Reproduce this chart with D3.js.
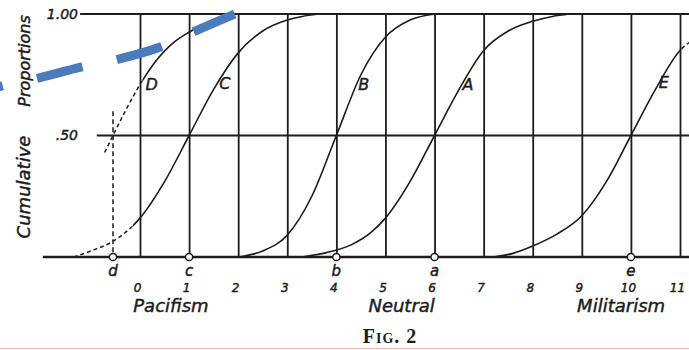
<!DOCTYPE html>
<html>
<head>
<meta charset="utf-8">
<script src="https://cdn.jsdelivr.net/npm/d3@7"></script>
<style>
  body { margin: 0; background: #fff; }
  svg { display: block; }
  .lettering { font-family: "DejaVu Sans", sans-serif; font-style: italic; fill: #1c1c1c; stroke: #1c1c1c; stroke-width: 0.45; }
</style>
</head>
<body>
<div id="chart"></div>
<script>
// ---- data (x in scale units, p = cumulative proportion) ----
var curveNames = ['D', 'C', 'B', 'A', 'E'];
var curveD = [[-0.72, 0.43], [-0.55, 0.5], [-0.3, 0.6], [0, 0.71], [0.3, 0.8], [0.7, 0.885], [1, 0.925], [1.45, 0.972], [1.95, 1.0]];
var curveC = [[-1.35, 0.0], [-1, 0.025], [-0.55, 0.065], [0, 0.16], [0.5, 0.31], [1, 0.5], [1.5, 0.69], [2, 0.84], [2.5, 0.93], [3, 0.975], [3.3, 0.99], [3.63, 1.0]];
var curveB = [[2, 0.0], [2.5, 0.025], [3, 0.09], [3.5, 0.25], [4, 0.5], [4.5, 0.75], [5, 0.905], [5.5, 0.975], [6, 1.0]];
var curveA = [[3.3, 0.0], [3.8, 0.018], [4.3, 0.05], [4.7, 0.1], [5, 0.16], [5.5, 0.31], [6, 0.5], [6.5, 0.69], [7, 0.85], [7.5, 0.93], [8, 0.97], [8.4, 0.99], [8.75, 1.0]];
var curveE = [[7.2, 0.0], [7.6, 0.015], [8, 0.045], [8.5, 0.095], [9, 0.17], [9.5, 0.31], [10, 0.5], [10.5, 0.69], [11, 0.85], [11.2, 0.885]];
var curveLabelPos = [[0.24, 0.71], [1.73, 0.715], [4.56, 0.71], [6.68, 0.71], [10.67, 0.72]];

var scaleTicks = [0, 1, 2, 3, 4, 5, 6, 7, 8, 9, 10, 11];
var medianLetters = ['d', 'c', 'b', 'a', 'e'];
var medianValues = [-0.55, 1, 4, 6, 10];
var regionNames = ['Pacifism', 'Neutral', 'Militarism'];
var regionCentres = [0.63, 5.33, 9.8];
var propTicks = [0.5, 1.0];
var propLabels = ['.50', '1.00'];
var hLineStarts = [-1.98, -0.88, -1.22]; // where the 0, .50, 1.00 rules begin
var hLineLevels = [0, 0.5, 1.0];

// someone's hand-drawn blue dashed stroke on top of the scan
var blueStroke = [[-3.05, 0.69], [-2.81, 0.704], [-2.14, 0.733], [-1.18, 0.782], [-0.51, 0.811], [0.41, 0.864], [1.08, 0.926], [1.93, 1.0]];

var width = 689, height = 350;
var ink = '#1c1c1c';

var svg = d3.select('#chart').append('svg')
    .attr('width', width)
    .attr('height', height);

var x = d3.scaleLinear().domain([0, 11]).range([140, 680]);
var y = d3.scaleLinear().domain([0, 1]).range([257, 14]);

// vertical rules
var grid = svg.append('g')
    .attr('transform', 'translate(0,' + y(0) + ')')
    .call(d3.axisBottom(x).tickValues(scaleTicks).tickSize(-(y(0) - y(1))).tickFormat(''));
grid.select('.domain').remove();
grid.selectAll('line').attr('stroke', ink).attr('stroke-width', 1.8);

// horizontal rules
svg.selectAll('.hrule')
    .data(hLineLevels)
    .enter().append('line')
    .attr('class', 'hrule')
    .attr('x1', (d, i) => x(hLineStarts[i]))
    .attr('x2', width)
    .attr('y1', d => y(d))
    .attr('y2', d => y(d))
    .attr('stroke', ink)
    .attr('stroke-width', (d) => d === 0 ? 2.6 : 1.8);

// dashed drop line at d
svg.append('line')
    .attr('x1', x(medianValues[0])).attr('x2', x(medianValues[0]))
    .attr('y1', y(0.6)).attr('y2', y(0))
    .attr('stroke', ink).attr('stroke-width', 1.5)
    .attr('stroke-dasharray', '5,3');

// clip regions for the dashed / solid parts of the ogives
var defs = svg.append('defs');
function clipRect(id, x0, x1) {
    defs.append('clipPath').attr('id', id).append('rect')
        .attr('x', x0).attr('y', 0).attr('width', x1 - x0).attr('height', height);
}
clipRect('dashD', 0, x(0.05)); clipRect('solidD', x(0.05), width);
clipRect('dashC', 0, x(-0.15)); clipRect('solidC', x(-0.15), width);
clipRect('dashE', x(11.03), width); clipRect('solidE', 0, x(11.03));

var line = d3.line()
    .x(d => x(d[0]))
    .y(d => y(d[1]))
    .curve(d3.curveMonotoneX);

var curves = [curveD, curveC, curveB, curveA, curveE];
var clips = { D: ['dashD', 'solidD'], C: ['dashC', 'solidC'], E: ['dashE', 'solidE'] };

curves.forEach((pts, i) => {
    var name = curveNames[i];
    if (clips[name]) {
        svg.append('path').datum(pts)
            .attr('d', line).attr('fill', 'none')
            .attr('stroke', ink).attr('stroke-width', 1.5)
            .attr('stroke-dasharray', '4,3')
            .attr('clip-path', 'url(#' + clips[name][0] + ')');
        svg.append('path').datum(pts)
            .attr('d', line).attr('fill', 'none')
            .attr('stroke', ink).attr('stroke-width', 1.6)
            .attr('clip-path', 'url(#' + clips[name][1] + ')');
    } else {
        svg.append('path').datum(pts)
            .attr('d', line).attr('fill', 'none')
            .attr('stroke', ink).attr('stroke-width', 1.6);
    }
});

// curve letters
svg.selectAll('.clabel')
    .data(curveNames)
    .enter().append('text')
    .attr('class', 'lettering')
    .attr('x', (d, i) => x(curveLabelPos[i][0]))
    .attr('y', (d, i) => y(curveLabelPos[i][1]))
    .attr('dy', '0.35em')
    .attr('text-anchor', 'middle')
    .attr('font-size', 16)
    .text(d => d);

// median markers on the base line
svg.selectAll('.median')
    .data(medianValues)
    .enter().append('circle')
    .attr('cx', d => x(d))
    .attr('cy', y(0))
    .attr('r', 3.6)
    .attr('fill', '#fff')
    .attr('stroke', ink)
    .attr('stroke-width', 1.5);

svg.selectAll('.mletter')
    .data(medianLetters)
    .enter().append('text')
    .attr('class', 'lettering')
    .attr('x', (d, i) => x(medianValues[i]))
    .attr('y', 276)
    .attr('text-anchor', 'middle')
    .attr('font-size', 15)
    .text(d => d);

// scale numbers
var nums = svg.append('g')
    .attr('transform', 'translate(-3,' + y(0) + ')')
    .call(d3.axisBottom(x).tickValues(scaleTicks).tickSize(0).tickPadding(26));
nums.select('.domain').remove();
nums.selectAll('text')
    .attr('class', 'lettering')
    .attr('font-family', null)
    .attr('fill', null)
    .attr('font-size', 12);

// region names
svg.selectAll('.region')
    .data(regionNames)
    .enter().append('text')
    .attr('class', 'lettering')
    .attr('x', (d, i) => x(regionCentres[i]))
    .attr('y', 312)
    .attr('text-anchor', 'middle')
    .attr('font-size', 18)
    .text(d => d);

// proportion labels
var props = svg.append('g')
    .attr('transform', 'translate(78,0)')
    .call(d3.axisLeft(y).tickValues(propTicks).tickSize(0).tickPadding(0)
        .tickFormat((d, i) => propLabels[i]));
props.select('.domain').remove();
props.selectAll('text')
    .attr('class', 'lettering')
    .attr('font-family', null)
    .attr('fill', null)
    .attr('font-size', 14);

// y title
svg.append('text')
    .attr('class', 'lettering')
    .attr('transform', 'translate(30,187) rotate(-90)')
    .attr('text-anchor', 'middle')
    .attr('font-size', 18)
    .text('Cumulative');
svg.append('text')
    .attr('class', 'lettering')
    .attr('transform', 'translate(30,61) rotate(-90)')
    .attr('text-anchor', 'middle')
    .attr('font-size', 16)
    .text('Proportions');

// caption
svg.append('text')
    .attr('x', 390)
    .attr('y', 343)
    .attr('text-anchor', 'middle')
    .attr('font-family', '"Liberation Serif", serif')
    .attr('font-size', 20)
    .attr('font-weight', 'bold')
    .attr('font-variant', 'small-caps')
    .attr('letter-spacing', 1)
    .attr('fill', ink)
    .text('Fig. 2');

// pink page edge
svg.append('line')
    .attr('x1', 0).attr('x2', width)
    .attr('y1', 348.5).attr('y2', 348.5)
    .attr('stroke', '#f3c3b9').attr('stroke-width', 1.5);

// blue overlay stroke
svg.append('path').datum(blueStroke)
    .attr('d', d3.line().x(d => x(d[0])).y(d => y(d[1])).curve(d3.curveMonotoneX))
    .attr('fill', 'none')
    .attr('stroke', '#4a7bbd')
    .attr('stroke-width', 9)
    .attr('stroke-dasharray', '47,35')
    .attr('stroke-dashoffset', 34);
</script>
</body>
</html>
